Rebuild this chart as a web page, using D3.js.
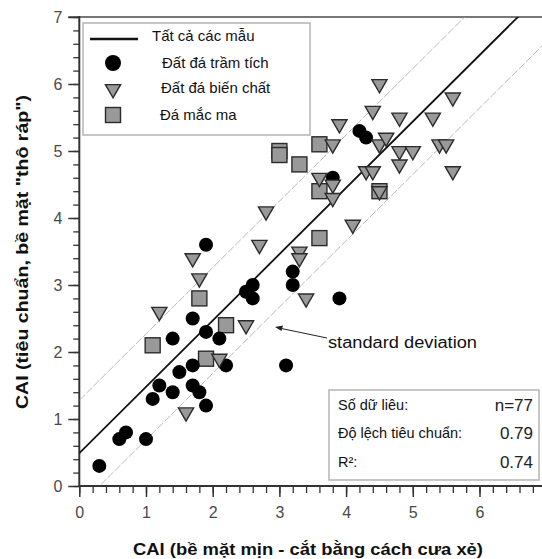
<!DOCTYPE html>
<html>
<head>
<meta charset="utf-8">
<script src="https://cdn.jsdelivr.net/npm/d3@7"></script>
<style>
  html, body { margin: 0; padding: 0; background: #fff; }
  svg { display: block; font-family: "Liberation Sans", Arial, sans-serif; }
</style>
</head>
<body>
<svg id="chart" width="542" height="559"></svg>
<script>
// Sedimentary rocks (black circles): [CAI smooth-cut, CAI rough]
const sedimentary = [
  [0.3, 0.3], [0.6, 0.7], [0.7, 0.8], [1.0, 0.7], [1.1, 1.3], [1.2, 1.5],
  [1.4, 1.4], [1.5, 1.7], [1.7, 1.5], [1.8, 1.4], [1.9, 1.2], [1.7, 1.8],
  [2.2, 1.8], [1.4, 2.2], [1.9, 2.3], [2.1, 2.2], [1.7, 2.5], [2.6, 2.8],
  [2.5, 2.9], [2.6, 3.0], [3.2, 3.2], [3.2, 3.0], [3.9, 2.8], [3.1, 1.8],
  [1.9, 3.6], [3.8, 4.6], [4.2, 5.3], [4.3, 5.2]
];
// Metamorphic rocks (grey triangles)
const metamorphic = [
  [1.2, 2.6], [1.7, 3.4], [1.8, 3.1], [2.5, 2.4], [2.1, 1.9], [1.6, 1.1],
  [2.7, 3.6], [2.8, 4.1], [3.3, 3.5], [3.3, 3.4], [3.4, 2.8], [3.6, 4.6],
  [3.8, 4.5], [3.8, 4.3], [3.8, 5.1], [3.9, 5.4], [4.1, 3.9], [4.3, 4.7],
  [4.4, 4.7], [4.5, 4.4], [4.5, 5.1], [4.6, 5.2], [4.4, 5.6], [4.5, 6.0],
  [4.8, 5.5], [4.8, 5.0], [4.8, 4.8], [5.0, 5.0], [5.3, 5.5], [5.4, 5.1],
  [5.5, 5.1], [5.6, 5.8], [5.6, 4.7]
];
// Igneous rocks (grey squares)
const igneous = [
  [1.1, 2.1], [1.8, 2.8], [2.2, 2.4], [1.9, 1.9], [3.0, 5.0], [3.0, 4.94],
  [3.3, 4.8], [3.6, 5.1], [3.6, 4.4], [3.6, 3.7], [4.5, 4.4]
];

// Regression fit for all samples and its standard deviation band
const fitSlope = 0.99;
const fitIntercept = 0.49;
const stdDev = 0.79;

const xTickLabels = [0, 1, 2, 3, 4, 5, 6];
const yTickLabels = [0, 1, 2, 3, 4, 5, 6, 7];

const legendLabels = ["Tất cả các mẫu", "Đất đá trầm tích", "Đất đá biến chất", "Đá mắc ma"];
const statLabels = ["Số dữ liêu:", "Độ lệch tiêu chuẩn:", "R²:"];
const statValues = ["n=77", "0.79", "0.74"];

const xTitle = "CAI (bề mặt mịn - cắt bằng cách cưa xẻ)";
const yTitle = "CAI (tiêu chuẩn, bề mặt \"thô ráp\")";

const svg = d3.select("#chart");
const W = 542, H = 559;

const x = d3.scaleLinear().domain([0, 7]).range([79.3, 546.2]);
const y = d3.scaleLinear().domain([0, 7]).range([486, 17]);

const GREY = "#999";
const EDGE = "#2b2b2b";

// clip region for the fitted lines
svg.append("defs").append("clipPath").attr("id", "plotClip")
  .append("rect").attr("x", x(0)).attr("y", y(7))
  .attr("width", W - x(0)).attr("height", y(0) - y(7));

// top frame line
svg.append("line")
  .attr("x1", x(0) - 11).attr("x2", W).attr("y1", y(7)).attr("y2", y(7))
  .attr("stroke", "#777").attr("stroke-width", 2.2);

// minor ticks
const minorVals = d3.range(0, 7.001, 0.2).map(v => +v.toFixed(1));
const xMinor = svg.append("g").attr("transform", `translate(0,${y(0)})`)
  .call(d3.axisBottom(x).tickValues(minorVals).tickSize(7).tickFormat(""));
const yMinor = svg.append("g").attr("transform", `translate(${x(0)},0)`)
  .call(d3.axisLeft(y).tickValues(minorVals).tickSize(6).tickFormat(""));
[xMinor, yMinor].forEach(g => {
  g.select(".domain").remove();
  g.selectAll("line").attr("stroke", "#333").attr("stroke-width", 1.3);
});

// major ticks with labels
const xAxis = svg.append("g").attr("transform", `translate(0,${y(0)})`)
  .call(d3.axisBottom(x).tickValues(xTickLabels).tickSize(11).tickPadding(10).tickFormat(d3.format("d")));
const yAxis = svg.append("g").attr("transform", `translate(${x(0)},0)`)
  .call(d3.axisLeft(y).tickValues(yTickLabels).tickSize(11).tickPadding(6).tickFormat(d3.format("d")));
[xAxis, yAxis].forEach(g => {
  g.select(".domain").remove();
  g.selectAll("line").attr("stroke", "#333").attr("stroke-width", 1.5);
  g.selectAll("text").attr("fill", "#4a4a4a").attr("font-size", 16)
    .attr("font-family", "Liberation Sans, Arial, sans-serif");
});

// axis lines
svg.append("line").attr("x1", x(0)).attr("x2", W).attr("y1", y(0)).attr("y2", y(0))
  .attr("stroke", "#333").attr("stroke-width", 2);
svg.append("line").attr("x1", x(0)).attr("x2", x(0)).attr("y1", y(0) + 1).attr("y2", y(7) - 1)
  .attr("stroke", "#333").attr("stroke-width", 2);

// axis titles
svg.append("text")
  .attr("x", 308).attr("y", 555)
  .attr("text-anchor", "middle")
  .attr("font-weight", "bold").attr("font-size", 17).attr("fill", "#111")
  .attr("textLength", 350).attr("lengthAdjust", "spacingAndGlyphs")
  .text(xTitle);
svg.append("text")
  .attr("transform", "translate(28,252) rotate(-90)")
  .attr("text-anchor", "middle")
  .attr("font-weight", "bold").attr("font-size", 17).attr("fill", "#111")
  .attr("textLength", 314).attr("lengthAdjust", "spacingAndGlyphs")
  .text(yTitle);

// fitted line and standard deviation band
const fitGroup = svg.append("g").attr("clip-path", "url(#plotClip)");
const lineOf = b => [[0, b], [7, fitSlope * 7 + b]];
const lineGen = d3.line().x(d => x(d[0])).y(d => y(d[1]));
[fitIntercept + stdDev, fitIntercept - stdDev].forEach(b => {
  fitGroup.append("path").attr("d", lineGen(lineOf(b)))
    .attr("fill", "none").attr("stroke", "#a8a8a8").attr("stroke-width", 0.8)
    .attr("stroke-dasharray", "8,2");
});
fitGroup.append("path").attr("d", lineGen(lineOf(fitIntercept)))
  .attr("fill", "none").attr("stroke", "#111").attr("stroke-width", 1.8);

// markers
const triPath = d3.symbol().type(d3.symbolTriangle).size(100)();
const marks = svg.append("g");
marks.selectAll("rect.ign").data(igneous).join("rect")
  .attr("class", "ign")
  .attr("x", d => x(d[0]) - 7.5).attr("y", d => y(d[1]) - 7.5)
  .attr("width", 15).attr("height", 15)
  .attr("fill", GREY).attr("stroke", EDGE).attr("stroke-width", 1.4);
marks.selectAll("circle.sed").data(sedimentary).join("circle")
  .attr("class", "sed")
  .attr("cx", d => x(d[0])).attr("cy", d => y(d[1])).attr("r", 7)
  .attr("fill", "#000");
marks.selectAll("path.met").data(metamorphic).join("path")
  .attr("class", "met")
  .attr("d", triPath)
  .attr("transform", d => `translate(${x(d[0])},${y(d[1])}) rotate(180)`)
  .attr("fill", GREY).attr("stroke", EDGE).attr("stroke-width", 1.4);

// legend
const lg = svg.append("g");
lg.append("rect").attr("x", 83).attr("y", 23).attr("width", 227).attr("height", 112)
  .attr("fill", "#fff").attr("stroke", "#b5b5b5").attr("stroke-width", 1.5);
lg.append("line").attr("x1", 90).attr("x2", 138).attr("y1", 39).attr("y2", 39)
  .attr("stroke", "#111").attr("stroke-width", 2.5);
lg.append("circle").attr("cx", 113).attr("cy", 63).attr("r", 8).attr("fill", "#000");
lg.append("path").attr("d", triPath)
  .attr("transform", "translate(113,89) rotate(180)")
  .attr("fill", GREY).attr("stroke", EDGE).attr("stroke-width", 1.4);
lg.append("rect").attr("x", 105.5).attr("y", 107.5).attr("width", 15).attr("height", 15)
  .attr("fill", GREY).attr("stroke", EDGE).attr("stroke-width", 1.4);
const legendPos = [[152, 36], [162, 63], [161, 88], [160, 115]];
legendLabels.forEach((t, i) => {
  lg.append("text").attr("x", legendPos[i][0]).attr("y", legendPos[i][1])
    .attr("dy", "0.35em").attr("font-size", 15).attr("fill", "#111").text(t);
});

// standard deviation annotation
svg.append("line").attr("x1", 327).attr("y1", 338).attr("x2", 279).attr("y2", 328)
  .attr("stroke", "#222").attr("stroke-width", 1);
svg.append("path").attr("d", "M275,327 L283,325.5 L281.5,331 Z").attr("fill", "#222");
svg.append("text").attr("x", 328).attr("y", 342).attr("dy", "0.35em")
  .attr("font-size", 16).attr("fill", "#111")
  .attr("textLength", 149).attr("lengthAdjust", "spacingAndGlyphs")
  .text("standard deviation");

// statistics box
const sb = svg.append("g");
sb.append("rect").attr("x", 329).attr("y", 390).attr("width", 210).attr("height", 90)
  .attr("fill", "#fff").attr("stroke", "#b5b5b5").attr("stroke-width", 1.5);
const statY = [405, 433, 462];
statLabels.forEach((t, i) => {
  sb.append("text").attr("x", 338).attr("y", statY[i]).attr("dy", "0.35em")
    .attr("font-size", 14.5).attr("fill", "#111").text(t);
});
statValues.forEach((t, i) => {
  sb.append("text").attr("x", 533).attr("y", statY[i]).attr("dy", "0.35em")
    .attr("text-anchor", "end").attr("font-size", 17).attr("fill", "#222").text(t);
});
</script>
</body>
</html>
